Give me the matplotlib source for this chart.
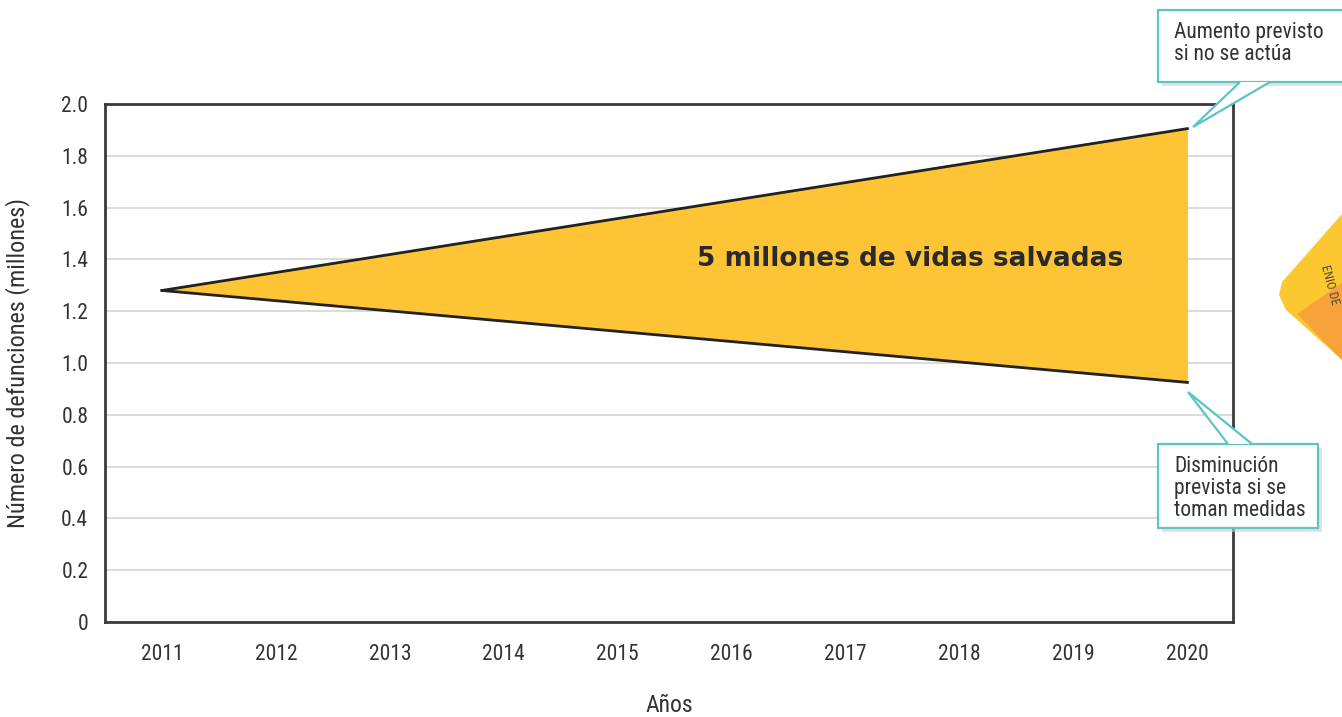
import matplotlib.pyplot as plt
from matplotlib.patches import Polygon
import matplotlib.font_manager as fm

names = {f.name for f in fm.fontManager.ttflist}
narrow = 'DejaVu Sans'
for cand in ['Liberation Sans Narrow', 'Roboto Condensed', 'Open Sans Condensed', 'DejaVu Sans Condensed',
             'Liberation Sans']:
    if cand in names:
        narrow = cand
        break
plt.rcParams['font.family'] = [narrow, 'DejaVu Sans']

# data
years = [2011, 2020]
sin_medidas = [1.28, 1.905]   # aumento previsto si no se actua
con_medidas = [1.28, 0.925]   # disminucion prevista si se toman medidas
xticks = list(range(2011, 2021))
yticks = [0, 0.2, 0.4, 0.6, 0.8, 1.0, 1.2, 1.4, 1.6, 1.8, 2.0]
ylabels = ['0', '0.2', '0.4', '0.6', '0.8', '1.0', '1.2', '1.4', '1.6', '1.8', '2.0']

W, H = 1342, 717
fig = plt.figure(figsize=(W / 100, H / 100), dpi=100)
ax = fig.add_axes([105 / W, 1 - 622 / H, (1233 - 105) / W, (622 - 104) / H])

ax.fill_between(years, con_medidas, sin_medidas, color='#fdc535', lw=0, zorder=2)
ax.plot(years, sin_medidas, color='#222222', lw=2, zorder=3)
ax.plot(years, con_medidas, color='#222222', lw=2, zorder=3)

ax.set_xlim(2010.5, 2020.4)
ax.set_ylim(0, 2.0)
ax.set_xticks(xticks)
ax.set_yticks(yticks)
ax.set_yticklabels(ylabels)
ax.tick_params(length=0, labelsize=15.5, colors='#333333', pad=12)
ax.tick_params(axis='x', pad=16)
ax.grid(axis='y', color='#d4d4d4', lw=1.2, zorder=0)
for s in ax.spines.values():
    s.set_color('#3a3a3a')
    s.set_linewidth(2)

ax.set_ylabel('Número de defunciones (millones)', fontsize=17.5, color='#333333')
ax.yaxis.set_label_coords(-75 / 1128, 0.5)
ax.set_xlabel('Años', fontsize=17, color='#333333')
ax.xaxis.set_label_coords(0.5, -(705 - 622) / 518)
ax.xaxis.label.set_va('center')

ax.text(2015.7, 1.4, '5 millones de vidas salvadas', fontsize=19, fontweight='bold',
        family=['DejaVu Sans'], color='#2a2a2a', ha='left', va='center', zorder=4)

teal = '#5cc4c4'


def fx(px):
    return px / W


def fy(py):
    return 1 - py / H


def callout(x0, y0, x1, y1, tip, base, text):
    fig.patches.append(Polygon([(x0 + 4 / W, y0 - 4 / H), (x1 + 4 / W, y0 - 4 / H), (x1 + 4 / W, y1 - 4 / H),
                                (x0 + 4 / W, y1 - 4 / H)],
                               closed=True, transform=fig.transFigure, fc='#d0d0d0', ec='none', alpha=0.6))
    fig.patches.append(Polygon([(x0, y0), (x1, y0), (x1, y1), (x0, y1)], closed=True,
                               transform=fig.transFigure, fc='white', ec=teal, lw=1.6))
    fig.patches.append(Polygon([base[0], tip, base[1]], closed=True,
                               transform=fig.transFigure, fc='white', ec='none'))
    fig.patches.append(Polygon([base[0], tip, base[1]], closed=False,
                               transform=fig.transFigure, fill=False, ec=teal, lw=1.6))
    fig.text(x0 + 16 / W, y1 - 12 / H, text, fontsize=15.5, color='#333333',
             va='top', ha='left', linespacing=1.05)


# upper callout
callout(fx(1158), fy(82), fx(1346), fy(10), (fx(1193), fy(127)),
        [(fx(1240), fy(82)), (fx(1270), fy(82))],
        'Aumento previsto\nsi no se actúa')
# lower callout
callout(fx(1158), fy(528), fx(1318), fy(444), (fx(1188), fy(392)),
        [(fx(1228), fy(444)), (fx(1252), fy(444))],
        'Disminución\nprevista si se\ntoman medidas')

# fragment of neighbouring graphic at right edge
fig.patches.append(Polygon([(fx(1342), fy(214)), (fx(1282), fy(282)), (fx(1279), fy(295)),
                            (fx(1286), fy(310)), (fx(1342), fy(360))], closed=True,
                           transform=fig.transFigure, fc='#fcc832', ec='none'))
fig.patches.append(Polygon([(fx(1342), fy(283)), (fx(1297), fy(314)), (fx(1342), fy(360))],
                           closed=True, transform=fig.transFigure, fc='#f7a23a', ec='none'))
fig.text(fx(1330), fy(285), 'ENIO DE', rotation=-75, fontsize=9, color='#5a4a30',
         ha='center', va='center')

fig.savefig('out.png', dpi=100)
